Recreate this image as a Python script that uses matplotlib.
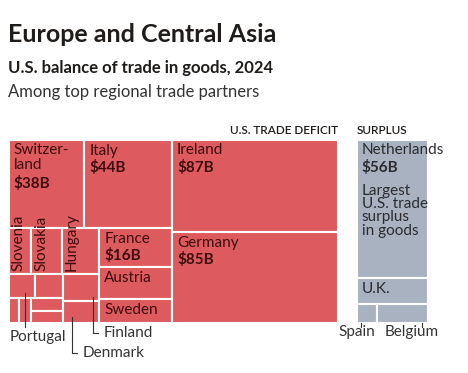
import math
import matplotlib.pyplot as plt
from matplotlib.patches import Rectangle

# ---------------------------------------------------------------------------
# Data: U.S. balance of trade in goods, 2024 ($ billions)
deficit_countries = ['Ireland', 'Germany', 'Italy', 'Switzerland', 'France', 'Austria',
                     'Sweden', 'Hungary', 'Slovakia', 'Slovenia', 'Finland', 'Denmark',
                     'Portugal', 'other_1', 'other_2', 'other_3', 'other_4', 'other_5']
deficit_values = [87, 85, 44, 38, 16, 13, 9.8, 9.6, 8.0, 5.8, 5.6, 4.4,
                  3.6, 3.8, 1.5, 1.7, 2.35, 2.15]

surplus_countries = ['Netherlands', 'U.K.', 'Spain', 'Belgium']
surplus_values = [56, 10.5, 2.2, 5.5]

labelled_values = {'Ireland': '$87B', 'Germany': '$85B', 'Italy': '$44B',
                   'Switzerland': '$38B', 'France': '$16B', 'Netherlands': '$56B'}

# Nesting of the treemap ('h' = side by side, 'v' = stacked)
deficit_tree = ('h', [
    ('v', [('h', ['Switzerland', 'Italy']),
           ('h', [('v', [('h', ['Slovenia', 'Slovakia', 'Hungary']),
                         ('h', [('v', [('h', ['Portugal', 'other_1']),
                                       ('h', ['other_2', 'other_3',
                                              ('v', ['other_4', 'other_5'])])]),
                                ('v', ['Finland', 'Denmark'])])]),
                  ('v', ['France', 'Austria', 'Sweden'])])]),
    ('v', ['Ireland', 'Germany'])])
surplus_tree = ('v', ['Netherlands', 'U.K.', ('h', ['Spain', 'Belgium'])])

values = dict(zip(deficit_countries, deficit_values))
values.update(zip(surplus_countries, surplus_values))


def total(node):
    if isinstance(node, str):
        return values[node]
    return sum(total(c) for c in node[1])


def layout(node, x, y, w, h, out):
    if isinstance(node, str):
        out[node] = (x, y, w, h)
        return
    direction, children = node
    tot = total(node)
    pos = 0.0
    for c in children:
        f = total(c) / tot
        if direction == 'h':
            layout(c, x + pos * w, y, w * f, h, out)
        else:
            layout(c, x, y + pos * h, w, h * f, out)
        pos += f


#------------------------------------------------------------------------------
RED = '#dd5b5e'
GREY = '#a9b2c0'
RED_TXT = '#3d0d0e'
GREY_TXT = '#2a2c30'
DARK = '#1f1c1a'
FONT = ['Lato', 'DejaVu Sans']
plt.rcParams['font.family'] = FONT

fig = plt.figure(figsize=(4.68, 3.73), dpi=100)
FW, FH = 468, 373

chart_h_px = 183.0
px_per_b = 176.7                 # pixel area per $1B
s = math.sqrt(px_per_b)          # pixels per data unit
H = chart_h_px / s
gap = 18.5 / s

w_def = total(deficit_tree) / H
w_sur = total(surplus_tree) / H
rects = {}
layout(deficit_tree, 0, 0, w_def, H, rects)
layout(surplus_tree, w_def + gap, 0, w_sur, H, rects)
x_max = w_def + gap + w_sur

left_px, top_px = 8.5, 139.5
ax = fig.add_axes([left_px / FW, 1 - (top_px + chart_h_px) / FH,
                   x_max * s / FW, chart_h_px / FH])
ax.set_xlim(0, x_max)
ax.set_ylim(H, 0)
ax.axis('off')

for name, (x, y, w, h) in rects.items():
    color = GREY if name in surplus_countries else RED
    ax.add_patch(Rectangle((x, y), w, h, facecolor=color, edgecolor='white',
                           linewidth=1.5))

# labels inside the boxes
names = {'Switzerland': 'Switzer-\nland', 'Italy': 'Italy', 'Ireland': 'Ireland',
         'Germany': 'Germany', 'France': 'France', 'Austria': 'Austria',
         'Sweden': 'Sweden', 'Netherlands': 'Netherlands', 'U.K.': 'U.K.'}
for name, text in names.items():
    x, y, w, h = rects[name]
    col = GREY_TXT if name in surplus_countries else RED_TXT
    ax.annotate(text, (x, y), xytext=(5, -4), textcoords='offset pixels',
                ha='left', va='top', fontsize=11, color=col, linespacing=1.05)
    if name in labelled_values:
        n = text.count('\n') + 1
        ax.annotate(labelled_values[name], (x, y), xytext=(5, -4 - 16 * n),
                    textcoords='offset pixels', ha='left', va='top',
                    fontsize=11, fontweight='bold', color=col)

x, y, w, h = rects['Netherlands']
ax.annotate('Largest\nU.S. trade\nsurplus\nin goods', (x, y), xytext=(5, -44),
            textcoords='offset pixels', ha='left', va='top', fontsize=11,
            color=GREY_TXT, linespacing=0.95)

for name in ['Slovenia', 'Slovakia', 'Hungary']:
    x, y, w, h = rects[name]
    ax.annotate(name, (x, y + h), xytext=(3, 3), textcoords='offset pixels',
                rotation=90, ha='left', va='bottom', fontsize=11, color=RED_TXT)

# leader labels below the chart: (name, x fraction, y fraction, drop px, elbow)
p = 1 / s
leaders = [('Portugal', 0.62, 0.80, 4.5, False),
           ('Finland', 0.83, 0.85, 10.5, True),
           ('Denmark', 0.25, 0.74, 30.5, True)]
for name, fx, fy, drop, elbow in leaders:
    x, y, w, h = rects[name]
    lx = x + fx * w
    ly = H + drop * p
    if elbow:
        ax.plot([lx, lx, lx + 5 * p], [y + fy * h, ly, ly], color='#333333',
                lw=0.8, clip_on=False)
        ax.text(lx + 10 * p, ly, name, ha='left', va='center', fontsize=11,
                color='#333333')
    else:
        ax.plot([lx, lx], [y + fy * h, ly], color='#333333', lw=0.8, clip_on=False)
        ax.text(x + 1.5 * p, ly + 3 * p, name, ha='left', va='top', fontsize=11,
                color='#333333')

for name, fx, shift in [('Spain', 0.23, -4), ('Belgium', 0.88, -10)]:
    x, y, w, h = rects[name]
    lx = x + fx * w
    ax.plot([lx, lx], [H, H + 4 * p], color='#333333', lw=0.8, clip_on=False)
    ax.text(lx + shift * p, H + 9.5 * p, name, ha='center', va='center',
            fontsize=11, color='#333333')

# headers
ax.text(w_def, -5 * p, 'U.S. TRADE DEFICIT', ha='right', va='baseline',
        fontsize=8.5, fontweight='semibold', color=DARK)
ax.text(w_def + gap, -5 * p, 'SURPLUS', ha='left', va='baseline',
        fontsize=8.5, fontweight='semibold', color=DARK)

# titles
fig.text(8 / FW, 1 - 42 / FH, 'Europe and Central Asia', fontsize=18,
         fontweight='bold', color=DARK, va='baseline')
fig.text(8 / FW, 1 - 73 / FH, 'U.S. balance of trade in goods, 2024', fontsize=12,
         fontweight='bold', color=DARK, va='baseline')
fig.text(8 / FW, 1 - 97 / FH, 'Among top regional trade partners', fontsize=12,
         color='#333333', va='baseline')

fig.savefig('out.png', dpi=100)
